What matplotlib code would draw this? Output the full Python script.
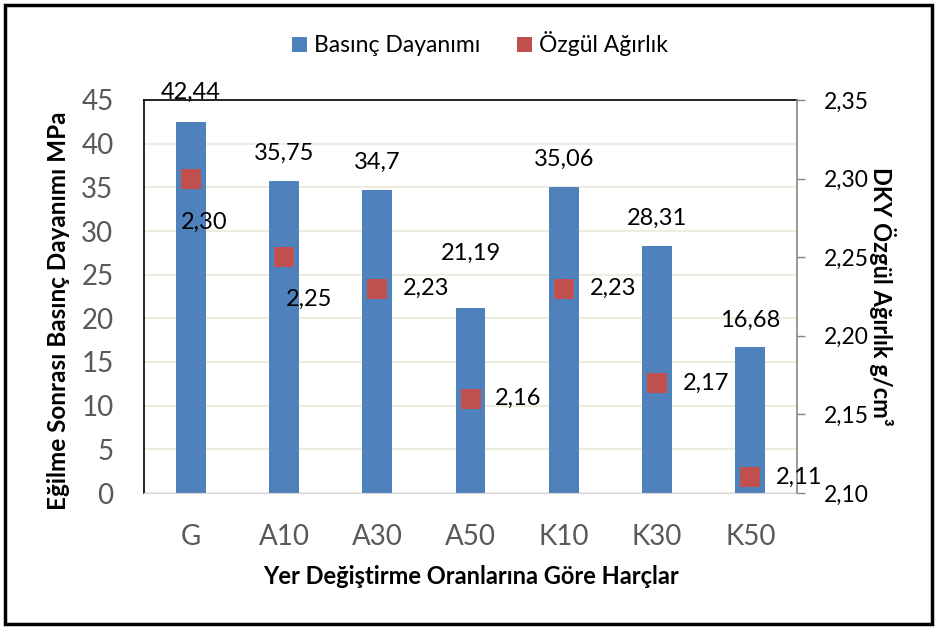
import matplotlib
matplotlib.use("Agg")
import matplotlib.pyplot as plt
from matplotlib.patches import Rectangle
from matplotlib.patches import Patch

categories = ["G", "A10", "A30", "A50", "K10", "K30", "K50"]
strength = [42.44, 35.75, 34.7, 21.19, 35.06, 28.31, 16.68]
strength_labels = ["42,44", "35,75", "34,7", "21,19", "35,06", "28,31", "16,68"]
density = [2.30, 2.25, 2.23, 2.16, 2.23, 2.17, 2.11]
density_labels = ["2,30", "2,25", "2,23", "2,16", "2,23", "2,17", "2,11"]
left_ticks = [0, 5, 10, 15, 20, 25, 30, 35, 40, 45]
right_ticks = [2.10, 2.15, 2.20, 2.25, 2.30, 2.35]
right_tick_labels = ["2,10", "2,15", "2,20", "2,25", "2,30", "2,35"]

# label offsets (pixels)
bar_label_offsets = [30, 27, 28, 55, 27, 27, 27]
dens_offsets = [(14, -44), (25, -42), (49, 0), (48, 0), (49, 0), (49, 0), (49, 0)]

plt.rcParams['font.family'] = ['Lato', 'DejaVu Sans']

BLUE = "#4F81BD"
RED = "#C0504D"
GRAY = "#595959"

fig = plt.figure(figsize=(9.36, 6.28), dpi=100)
ax = fig.add_axes([144/936, 1-493/628, (797-144)/936, (493-100)/628])
x = list(range(len(categories)))
bars = ax.bar(x, strength, width=0.32, color=BLUE, zorder=2)
ax.set_xlim(-0.5, len(categories)-0.5)
ax.set_ylim(0, 45)
ax.set_yticks(left_ticks)
ax.set_yticklabels([str(t) for t in left_ticks])
ax.tick_params(axis='y', length=0, pad=22, labelsize=20, labelcolor=GRAY)
ax.set_xticks(x)
ax.set_xticklabels(categories)
ax.tick_params(axis='x', length=0, pad=22, labelsize=20, labelcolor=GRAY)
ax.grid(axis='y', color='#EEECE1', linewidth=1.5, zorder=0)
ax.set_axisbelow(True)
for s in ['left', 'top']:
    ax.spines[s].set_color('black')
    ax.spines[s].set_linewidth(1.2)
ax.spines['bottom'].set_color('#D9D9D9')
ax.spines['right'].set_visible(False)

for xi, v, lab, off in zip(x, strength, strength_labels, bar_label_offsets):
    ax.annotate(lab, (xi, v), xytext=(0, off), textcoords='offset pixels',
                ha='center', va='center', fontsize=17, color='black',
                annotation_clip=False)

ax.set_ylabel("Eğilme Sonrası Basınç Dayanımı MPa", fontsize=17.5, fontweight='bold')
ax.yaxis.set_label_coords(-0.113, 0.463)
ax.set_xlabel("Yer Değiştirme Oranlarına Göre Harçlar", fontsize=17, fontweight='bold', labelpad=11)

ax2 = ax.twinx()
ax2.set_ylim(2.10, 2.35)
ax2.set_yticks(right_ticks)
ax2.set_yticklabels(right_tick_labels)
ax2.tick_params(axis='y', length=6, width=1, color='#868686', pad=13, labelsize=16.5, labelcolor='black')
for s in ['left', 'top', 'bottom']:
    ax2.spines[s].set_visible(False)
ax2.spines['right'].set_color('#868686')
ax2.spines['right'].set_linewidth(1.2)
line, = ax2.plot(x, density, linestyle='none', marker='s', markersize=14.4,
                 color=RED, markeredgewidth=0, zorder=3)
for xi, v, lab, off in zip(x, density, density_labels, dens_offsets):
    ax2.annotate(lab, (xi, v), xytext=off, textcoords='offset pixels',
                 ha='center', va='center', fontsize=17, color='black',
                 annotation_clip=False)
ax2.set_ylabel("DKY Özgül Ağırlık g/cm³", fontsize=17, fontweight='bold',
               rotation=270, labelpad=20)

handles = [Patch(facecolor=BLUE), Patch(facecolor=RED)]
fig.legend(handles, ["Basınç Dayanımı", "Özgül Ağırlık"], loc='center',
           bbox_to_anchor=(480/936, 1-44/628), ncol=2, frameon=False,
           fontsize=16.5, handlelength=0.65, handleheight=0.65, handletextpad=0.3,
           columnspacing=1.6)

fig.patches.append(Rectangle((5/936, 4/628), 927/936, 619/628, transform=fig.transFigure,
                             fill=False, edgecolor='black', linewidth=2.5))

fig.savefig("out.png", dpi=100)
